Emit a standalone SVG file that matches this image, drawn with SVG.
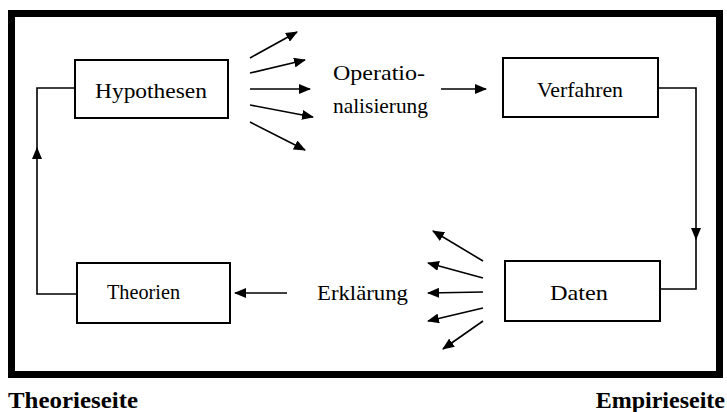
<svg xmlns="http://www.w3.org/2000/svg" width="727" height="412" viewBox="0 0 727 412">
<style>
.frame{fill:none;stroke:#000;stroke-width:7}
.box{fill:#fff;stroke:#000;stroke-width:2}
.lbl{font-family:"Liberation Serif","Times New Roman",serif;font-size:21px;fill:#000}
.side{font-family:"Liberation Serif","Times New Roman",serif;font-size:24px;font-weight:bold;fill:#000}
.ln{fill:none;stroke:#000;stroke-width:1.6}
.arr{fill:none;stroke:#000;stroke-width:1.6;marker-end:url(#ah)}
</style>
<defs>
<marker id="ah" markerUnits="userSpaceOnUse" markerWidth="12" markerHeight="10" refX="11" refY="5" orient="auto">
<path d="M0,0 L12,5 L0,10 Z" fill="#000"/>
</marker>
</defs>
<rect width="727" height="412" fill="#fff"/>
<rect class="frame" x="11.5" y="13.5" width="708" height="361"/>
<g id="connectors">
<path class="arr" d="M77,294 H37 V148"/>
<path class="ln" d="M37,150 V88 H75"/>
<path class="arr" d="M658,88 H696 V239"/>
<path class="ln" d="M696,237 V289 H660"/>
<path class="arr" d="M250,58 L297,32"/>
<path class="arr" d="M250,73 L305,60"/>
<path class="arr" d="M250,89 L310,89"/>
<path class="arr" d="M250,105 L313,117"/>
<path class="arr" d="M250,122 L305,150"/>
<path class="arr" d="M441,89 L486,89"/>
<path class="arr" d="M483,261 L433,231"/>
<path class="arr" d="M483,278 L428,263"/>
<path class="arr" d="M483,292 L428,293"/>
<path class="arr" d="M483,308 L428,321"/>
<path class="arr" d="M483,321 L443,349"/>
<path class="arr" d="M287,293 L235,293"/>
</g>
<g id="hypothesen">
<rect class="box" x="75" y="60" width="153" height="58"/>
<text class="lbl" x="95" y="98" textLength="112" lengthAdjust="spacingAndGlyphs">Hypothesen</text>
</g>
<g id="operationalisierung">
<text class="lbl" x="333" y="80" textLength="92" lengthAdjust="spacingAndGlyphs">Operatio-</text>
<text class="lbl" x="333" y="113" textLength="95" lengthAdjust="spacingAndGlyphs">nalisierung</text>
</g>
<g id="verfahren">
<rect class="box" x="503" y="58" width="155" height="59"/>
<text class="lbl" x="537" y="97" textLength="86" lengthAdjust="spacingAndGlyphs">Verfahren</text>
</g>
<g id="daten">
<rect class="box" x="505" y="261" width="155" height="60"/>
<text class="lbl" x="550" y="300" textLength="58" lengthAdjust="spacingAndGlyphs">Daten</text>
</g>
<g id="erklaerung">
<text class="lbl" x="317" y="300" textLength="91" lengthAdjust="spacingAndGlyphs">Erklärung</text>
</g>
<g id="theorien">
<rect class="box" x="77" y="263" width="153" height="60"/>
<text class="lbl" x="107" y="299" textLength="73" lengthAdjust="spacingAndGlyphs">Theorien</text>
</g>
<text class="side" x="8" y="408" textLength="130" lengthAdjust="spacingAndGlyphs">Theorieseite</text>
<text class="side" x="725" y="408" text-anchor="end">Empirieseite</text>
</svg>
